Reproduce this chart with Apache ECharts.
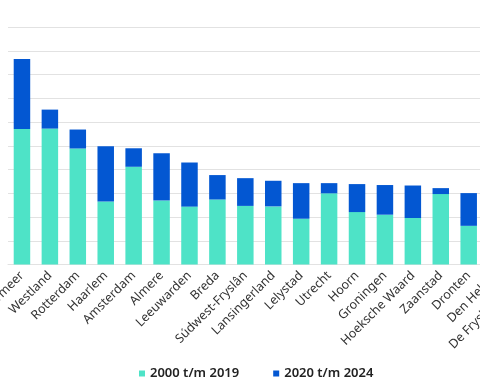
<!DOCTYPE html>
<html><head><meta charset="utf-8">
<script src="https://cdn.jsdelivr.net/npm/echarts@6/dist/echarts.min.js"></script>
<style>html,body{margin:0;padding:0;background:#fff}#c{width:480px;height:384px}</style>
</head><body><div id="c"></div>
<script>
const categories = ["Haarlemmermeer","Westland","Rotterdam","Haarlem","Amsterdam","Almere","Leeuwarden","Breda","Súdwest-Fryslân","Lansingerland","Lelystad","Utrecht","Hoorn","Groningen","Hoeksche Waard","Zaanstad","Dronten","Den Helder","De Fryske Marren"];
const series2000_2019 = [571,573,489,266,412,270,244,274,247,245,193,300,221,210,196,297,163,200,190];
const series2020_2024 = [295,80,80,233,78,199,186,103,117,108,150,43,118,125,137,25,138,90,90];
const seriesNames = ["2000 t/m 2019","2020 t/m 2024"];
const yTicks = {min:0, max:1000, interval:100};

const chart = echarts.init(document.getElementById('c'), null, {renderer:'canvas'});
chart.setOption({
  animation:false,
  grid:{left:8, top:27.3, width:530.5, height:237.2, containLabel:false, outerBoundsMode:'none'},
  legend:{
    data:seriesNames, left:134, top:362, icon:'rect', itemWidth:6, itemHeight:6, itemGap:34,
    textStyle:{fontFamily:'Noto Sans', fontSize:13, fontWeight:600, color:'#222'}
  },
  xAxis:{
    type:'category', data:categories,
    axisLine:{lineStyle:{color:'#e2e2e2', width:1}},
    axisTick:{show:false},
    axisLabel:{rotate:45, interval:0, margin:9, hideOverlap:false, fontFamily:'Noto Sans', fontSize:12.5, color:'#333'}
  },
  yAxis:{
    type:'value', min:yTicks.min, max:yTicks.max, interval:yTicks.interval,
    axisLabel:{show:false}, axisLine:{show:false}, axisTick:{show:false},
    splitLine:{lineStyle:{color:'#e2e2e2', width:1}}
  },
  series:[
    {name:seriesNames[0], type:'bar', stack:'t', data:series2000_2019, barWidth:16.5, itemStyle:{color:'#4ee3c7'}},
    {name:seriesNames[1], type:'bar', stack:'t', data:series2020_2024, barWidth:16.5, itemStyle:{color:'#0357d2'}}
  ]
});
</script></body></html>
